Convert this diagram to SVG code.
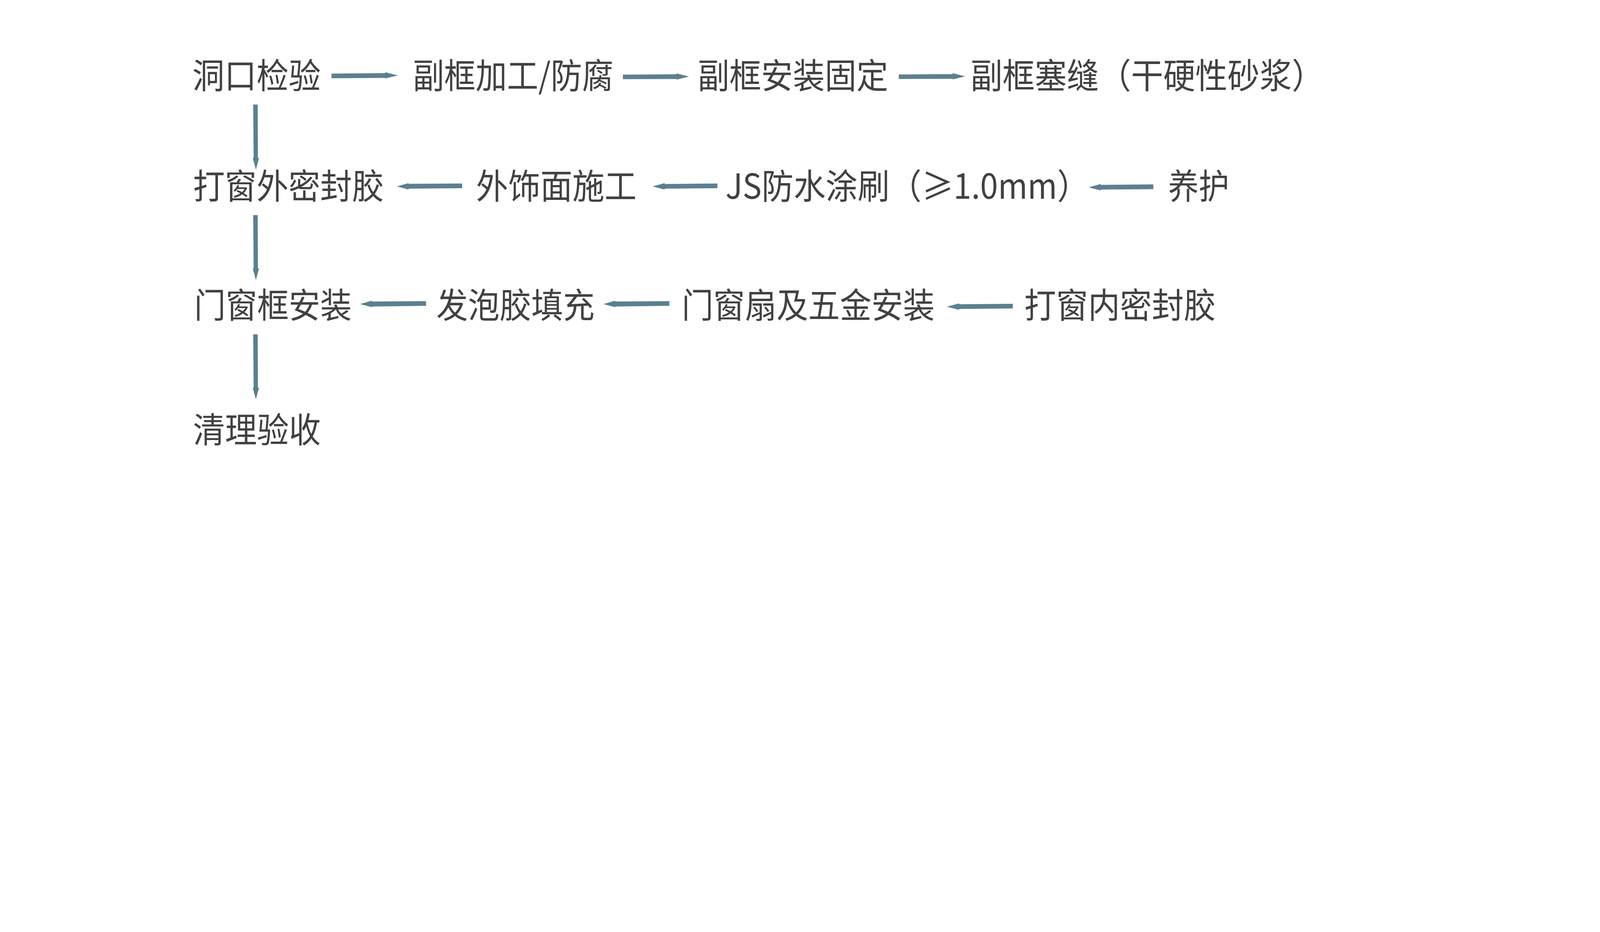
<svg xmlns="http://www.w3.org/2000/svg" width="7128" height="2387" viewBox="0 0 7128 2387" preserveAspectRatio="xMidYMin meet" style="width:100vw;height:100vh;display:block">
<style>
.t{font-family:"Noto Sans CJK SC","Noto Sans",sans-serif;font-size:155px;fill:#414141;}
.a{fill:#5b8090;}
</style>
<rect x="0" y="0" width="7128" height="2387" fill="#ffffff"/>
<g id="n1"><text class="t" x="857" y="393" textLength="572" lengthAdjust="spacingAndGlyphs">洞口检验</text></g>
<g id="n2"><text class="t" x="1839" y="393" textLength="894" lengthAdjust="spacingAndGlyphs">副框加工/防腐</text></g>
<g id="n3"><text class="t" x="3108" y="393" textLength="849" lengthAdjust="spacingAndGlyphs">副框安装固定</text></g>
<g id="n4"><text class="t" x="4323" y="393" textLength="1575" lengthAdjust="spacingAndGlyphs">副框塞缝（干硬性砂浆）</text></g>
<g id="n5"><text class="t" x="5204" y="886" textLength="272" lengthAdjust="spacingAndGlyphs">养护</text></g>
<g id="n6"><text class="t" x="3232" y="886" textLength="1620" lengthAdjust="spacingAndGlyphs">JS防水涂刷（≥1.0mm）</text></g>
<g id="n7"><text class="t" x="2121" y="886" textLength="715" lengthAdjust="spacingAndGlyphs">外饰面施工</text></g>
<g id="n8"><text class="t" x="860" y="886" textLength="850" lengthAdjust="spacingAndGlyphs">打窗外密封胶</text></g>
<g id="n9"><text class="t" x="4563" y="1417" textLength="853" lengthAdjust="spacingAndGlyphs">打窗内密封胶</text></g>
<g id="n10"><text class="t" x="3037" y="1417" textLength="1127" lengthAdjust="spacingAndGlyphs">门窗扇及五金安装</text></g>
<g id="n11"><text class="t" x="1944" y="1417" textLength="705" lengthAdjust="spacingAndGlyphs">发泡胶填充</text></g>
<g id="n12"><text class="t" x="865" y="1417" textLength="702" lengthAdjust="spacingAndGlyphs">门窗框安装</text></g>
<g id="n13"><text class="t" x="860" y="1972" textLength="569" lengthAdjust="spacingAndGlyphs">清理验收</text></g>
<g id="connectors">
<polygon class="a" points="1477,328 1716,326 1716,322 1772,336 1716,350 1716,347 1477,349"/>
<polygon class="a" points="2775,333 3014,331 3014,327 3070,341 3014,355 3014,352 2775,353"/>
<polygon class="a" points="4004,332 4244,330 4244,326 4300,340 4244,354 4244,351 4004,352"/>
<polygon class="a" points="1128,466 1148,466 1149,704 1154,704 1140,756 1126,704 1130,704"/>
<polygon class="a" points="2059,818 1820,819 1820,816 1768,831 1820,845 1820,841 2059,839"/>
<polygon class="a" points="3196,818 2961,820 2961,816 2907,831 2961,845 2961,841 3196,839"/>
<polygon class="a" points="5138,822 4904,824 4904,820 4850,835 4904,849 4904,845 5138,843"/>
<polygon class="a" points="1128,959 1148,959 1149,1196 1154,1196 1140,1248 1126,1196 1130,1196"/>
<polygon class="a" points="1898,1342 1657,1344 1657,1340 1604,1355 1657,1369 1657,1366 1898,1363"/>
<polygon class="a" points="2982,1342 2741,1344 2741,1340 2688,1355 2741,1369 2741,1366 2982,1363"/>
<polygon class="a" points="4512,1354 4273,1356 4273,1352 4218,1367 4273,1381 4273,1377 4512,1375"/>
<polygon class="a" points="1128,1490 1148,1490 1149,1728 1154,1728 1140,1780 1126,1728 1130,1728"/>
</g>
</svg>
